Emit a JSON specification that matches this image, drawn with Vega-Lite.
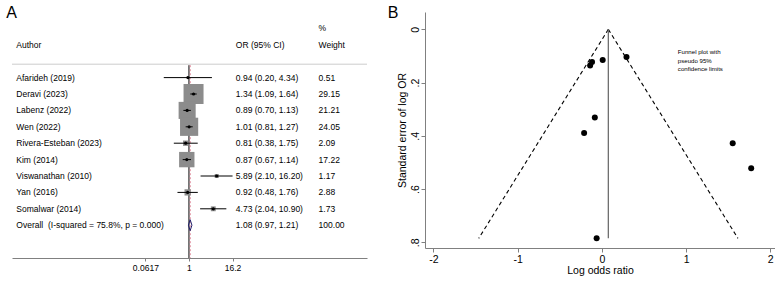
{
  "$schema": "https://vega.github.io/schema/vega-lite/v6.json",
  "padding": {"left": 6, "top": 5, "right": 0, "bottom": 0},
  "spacing": 19,
  "config": {"view": {"stroke": null}, "font": "Liberation Sans", "axis": {"grid": false}},
  "datasets": {
    "forest": [
      {"row": "h1", "kind": "header", "author": "", "orci": "", "wtext": "%"},
      {"row": "h2", "kind": "header", "author": "Author", "orci": "OR (95% CI)", "wtext": "Weight"},
      {"row": "Afarideh (2019)", "kind": "study", "author": "Afarideh (2019)", "or": 0.94, "lo": 0.20, "hi": 4.34, "w": 0.51, "orci": "0.94 (0.20, 4.34)", "wtext": "0.51"},
      {"row": "Deravi (2023)", "kind": "study", "author": "Deravi (2023)", "or": 1.34, "lo": 1.09, "hi": 1.64, "w": 29.15, "orci": "1.34 (1.09, 1.64)", "wtext": "29.15"},
      {"row": "Labenz (2022)", "kind": "study", "author": "Labenz (2022)", "or": 0.89, "lo": 0.70, "hi": 1.13, "w": 21.21, "orci": "0.89 (0.70, 1.13)", "wtext": "21.21"},
      {"row": "Wen (2022)", "kind": "study", "author": "Wen (2022)", "or": 1.01, "lo": 0.81, "hi": 1.27, "w": 24.05, "orci": "1.01 (0.81, 1.27)", "wtext": "24.05"},
      {"row": "Rivera-Esteban (2023)", "kind": "study", "author": "Rivera-Esteban (2023)", "or": 0.81, "lo": 0.38, "hi": 1.75, "w": 2.09, "orci": "0.81 (0.38, 1.75)", "wtext": "2.09"},
      {"row": "Kim (2014)", "kind": "study", "author": "Kim (2014)", "or": 0.87, "lo": 0.67, "hi": 1.14, "w": 17.22, "orci": "0.87 (0.67, 1.14)", "wtext": "17.22"},
      {"row": "Viswanathan (2010)", "kind": "study", "author": "Viswanathan (2010)", "or": 5.89, "lo": 2.10, "hi": 16.20, "w": 1.17, "orci": "5.89 (2.10, 16.20)", "wtext": "1.17"},
      {"row": "Yan (2016)", "kind": "study", "author": "Yan (2016)", "or": 0.92, "lo": 0.48, "hi": 1.76, "w": 2.88, "orci": "0.92 (0.48, 1.76)", "wtext": "2.88"},
      {"row": "Somalwar (2014)", "kind": "study", "author": "Somalwar (2014)", "or": 4.73, "lo": 2.04, "hi": 10.90, "w": 1.73, "orci": "4.73 (2.04, 10.90)", "wtext": "1.73"},
      {"row": "Overall", "kind": "overall", "author": "Overall\u00a0 (I-squared = 75.8%, p = 0.000)", "or": 1.08, "lo": 0.97, "hi": 1.21, "w": 100, "orci": "1.08 (0.97, 1.21)", "wtext": "100.00"}
    ],
    "funnel_studies": [
      {"study": "Afarideh (2019)", "lor": -0.0619, "se": 0.785},
      {"study": "Deravi (2023)", "lor": 0.2927, "se": 0.1042},
      {"study": "Labenz (2022)", "lor": -0.1165, "se": 0.1222},
      {"study": "Wen (2022)", "lor": 0.0100, "se": 0.1147},
      {"study": "Rivera-Esteban (2023)", "lor": -0.2107, "se": 0.3896},
      {"study": "Kim (2014)", "lor": -0.1393, "se": 0.1356},
      {"study": "Viswanathan (2010)", "lor": 1.7733, "se": 0.5212},
      {"study": "Yan (2016)", "lor": -0.0834, "se": 0.3315},
      {"study": "Somalwar (2014)", "lor": 1.5539, "se": 0.4275}
    ],
    "funnel_limits": [
      {"side": "lower", "lor": 0.077, "se": 0},
      {"side": "lower", "lor": -1.462, "se": 0.785},
      {"side": "upper", "lor": 0.077, "se": 0},
      {"side": "upper", "lor": 1.616, "se": 0.785}
    ],
    "funnel_pooled": [
      {"lor": 0.077, "se_min": 0, "se_max": 0.785}
    ]
  },
  "hconcat": [
    {
      "width": 355,
      "height": 246,
      "data": {"name": "forest"},
      "layer": [
        {
          "transform": [{"filter": "datum.kind == 'overall'"}],
          "mark": {"type": "rule", "color": "#cccccc", "strokeWidth": 1, "yOffset": 3},
          "encoding": {
            "y": {"datum": "sep", "type": "nominal", "axis": null,
              "scale": {"type": "point", "padding": 0, "domain": ["t0", "h1", "h2", "sep", "Afarideh (2019)", "Deravi (2023)", "Labenz (2022)", "Wen (2022)", "Rivera-Esteban (2023)", "Kim (2014)", "Viswanathan (2010)", "Yan (2016)", "Somalwar (2014)", "Overall", "b1", "b2"]}}
          }
        },
        {
          "transform": [{"filter": "datum.kind == 'overall'"}],
          "mark": {"type": "rule", "color": "#000000", "strokeWidth": 1, "yOffset": 4},
          "encoding": {
            "x": {"datum": 1, "type": "quantitative", "title": null,
              "scale": {"type": "log", "domain": [0.0000123, 87096], "nice": false},
              "axis": {"values": [0.0617, 1, 16.2], "labelExpr": "datum.value < 0.5 ? '0.0617' : (datum.value > 5 ? '16.2' : '1')", "title": null, "domainColor": "#808080", "tickColor": "#808080", "tickSize": 3, "labelFontSize": 8.5, "labelPadding": 2, "labelColor": "#000000", "grid": false}},
            "y": {"datum": "sep", "type": "nominal", "axis": null},
            "y2": {"datum": "b2"}
          }
        },
        {
          "transform": [{"filter": "datum.kind == 'overall'"}],
          "mark": {"type": "rule", "color": "#d9788c", "strokeWidth": 1, "strokeDash": [2, 2], "yOffset": 4},
          "encoding": {
            "x": {"field": "or", "type": "quantitative", "title": null},
            "y": {"datum": "sep", "type": "nominal", "axis": null},
            "y2": {"datum": "b2"}
          }
        },
        {
          "transform": [{"filter": "datum.kind == 'study'"}],
          "mark": {"type": "point", "shape": "square", "filled": true, "color": "#8c8c8c", "opacity": 1},
          "encoding": {
            "x": {"field": "or", "type": "quantitative", "title": null},
            "y": {"field": "row", "type": "nominal", "axis": null},
            "size": {"field": "w", "type": "quantitative", "legend": null, "scale": {"type": "linear", "domain": [0, 29.15], "range": [0, 400]}}
          }
        },
        {
          "transform": [{"filter": "datum.kind == 'study'"}],
          "mark": {"type": "rule", "color": "#000000", "strokeWidth": 1},
          "encoding": {
            "x": {"field": "lo", "type": "quantitative", "title": null},
            "x2": {"field": "hi"},
            "y": {"field": "row", "type": "nominal", "axis": null}
          }
        },
        {
          "transform": [{"filter": "datum.kind == 'study'"}],
          "mark": {"type": "point", "shape": "circle", "filled": true, "color": "#000000", "opacity": 1, "size": 10},
          "encoding": {
            "x": {"field": "or", "type": "quantitative", "title": null},
            "y": {"field": "row", "type": "nominal", "axis": null}
          }
        },
        {
          "transform": [{"filter": "datum.kind == 'overall'"}],
          "mark": {"type": "point", "shape": "M0,-1L0.32,0L0,1L-0.32,0Z", "filled": false, "stroke": "#1f1f6b", "strokeWidth": 1, "opacity": 1, "size": 121},
          "encoding": {
            "x": {"field": "or", "type": "quantitative", "title": null},
            "y": {"field": "row", "type": "nominal", "axis": null}
          }
        },
        {
          "mark": {"type": "text", "align": "left", "baseline": "middle", "fontSize": 8.5, "color": "#000000"},
          "encoding": {
            "x": {"datum": 0.0000162, "type": "quantitative", "title": null},
            "y": {"field": "row", "type": "nominal", "axis": null},
            "text": {"field": "author"}
          }
        },
        {
          "mark": {"type": "text", "align": "left", "baseline": "middle", "fontSize": 8.5, "color": "#000000"},
          "encoding": {
            "x": {"datum": 20, "type": "quantitative", "title": null},
            "y": {"field": "row", "type": "nominal", "axis": null},
            "text": {"field": "orci"}
          }
        },
        {
          "mark": {"type": "text", "align": "left", "baseline": "middle", "fontSize": 8.5, "color": "#000000"},
          "encoding": {
            "x": {"datum": 3955, "type": "quantitative", "title": null},
            "y": {"field": "row", "type": "nominal", "axis": null},
            "text": {"field": "wtext"}
          }
        },
        {
          "transform": [{"filter": "datum.kind == 'overall'"}],
          "mark": {"type": "text", "text": "A", "align": "left", "baseline": "middle", "fontSize": 16, "dy": 1, "color": "#000000"},
          "encoding": {
            "x": {"datum": 0.00000855, "type": "quantitative", "title": null},
            "y": {"datum": "t0", "type": "nominal", "axis": null}
          }
        }
      ]
    },
    {
      "width": 350,
      "height": 236,
      "layer": [
        {
          "data": {"name": "funnel_limits"},
          "mark": {"type": "line", "color": "#000000", "strokeWidth": 1.1, "strokeDash": [4, 3]},
          "encoding": {
            "x": {"field": "lor", "type": "quantitative",
              "scale": {"domain": [-2.1, 2.056], "nice": false, "zero": false},
              "axis": {"values": [-2, -1, 0, 1, 2], "labelExpr": "datum.value < 0 ? '-' + abs(datum.value) : '' + datum.value", "title": "Log odds ratio", "titleFontSize": 10.5, "titleFontWeight": "normal", "titleColor": "#000000", "titlePadding": 1, "labelFontSize": 10.5, "labelColor": "#000000", "labelPadding": 2, "tickSize": 4, "tickColor": "#808080", "domainColor": "#808080", "grid": false}},
            "y": {"field": "se", "type": "quantitative",
              "scale": {"domain": [-0.0652, 0.8212], "reverse": true, "nice": false, "zero": false},
              "axis": {"values": [0, 0.2, 0.4, 0.6, 0.8], "labelExpr": "datum.value == 0 ? '0' : replace(format(datum.value, '.1f'), '0.', '.')", "labelAngle": 270, "labelAlign": "center", "labelBaseline": "bottom", "title": "Standard error of log OR", "titleFontSize": 10.5, "titleFontWeight": "normal", "titleColor": "#000000", "titlePadding": 3, "labelFontSize": 10.5, "labelColor": "#000000", "labelPadding": 1, "tickSize": 4, "tickColor": "#808080", "domainColor": "#808080", "grid": false}},
            "detail": {"field": "side"},
            "order": {"field": "se"}
          }
        },
        {
          "data": {"name": "funnel_pooled"},
          "mark": {"type": "rule", "color": "#6e6e6e", "strokeWidth": 1.3},
          "encoding": {
            "x": {"field": "lor", "type": "quantitative"},
            "y": {"field": "se_min", "type": "quantitative"},
            "y2": {"field": "se_max"}
          }
        },
        {
          "data": {"name": "funnel_studies"},
          "mark": {"type": "point", "shape": "circle", "filled": true, "color": "#000000", "opacity": 1, "size": 36},
          "encoding": {
            "x": {"field": "lor", "type": "quantitative"},
            "y": {"field": "se", "type": "quantitative"}
          }
        },
        {
          "data": {"name": "funnel_pooled"},
          "mark": {"type": "text", "text": ["Funnel plot with", "pseudo 95%", "confidence limits"], "align": "left", "baseline": "middle", "fontSize": 6.1, "lineHeight": 8.7, "color": "#000000"},
          "encoding": {
            "x": {"datum": 0.9026, "type": "quantitative"},
            "y": {"datum": 0.0851, "type": "quantitative"}
          }
        },
        {
          "data": {"name": "funnel_pooled"},
          "mark": {"type": "text", "text": "B", "align": "left", "baseline": "middle", "fontSize": 16, "color": "#000000"},
          "encoding": {
            "x": {"datum": -2.543, "type": "quantitative"},
            "y": {"datum": -0.0611, "type": "quantitative"}
          }
        }
      ]
    }
  ]
}
